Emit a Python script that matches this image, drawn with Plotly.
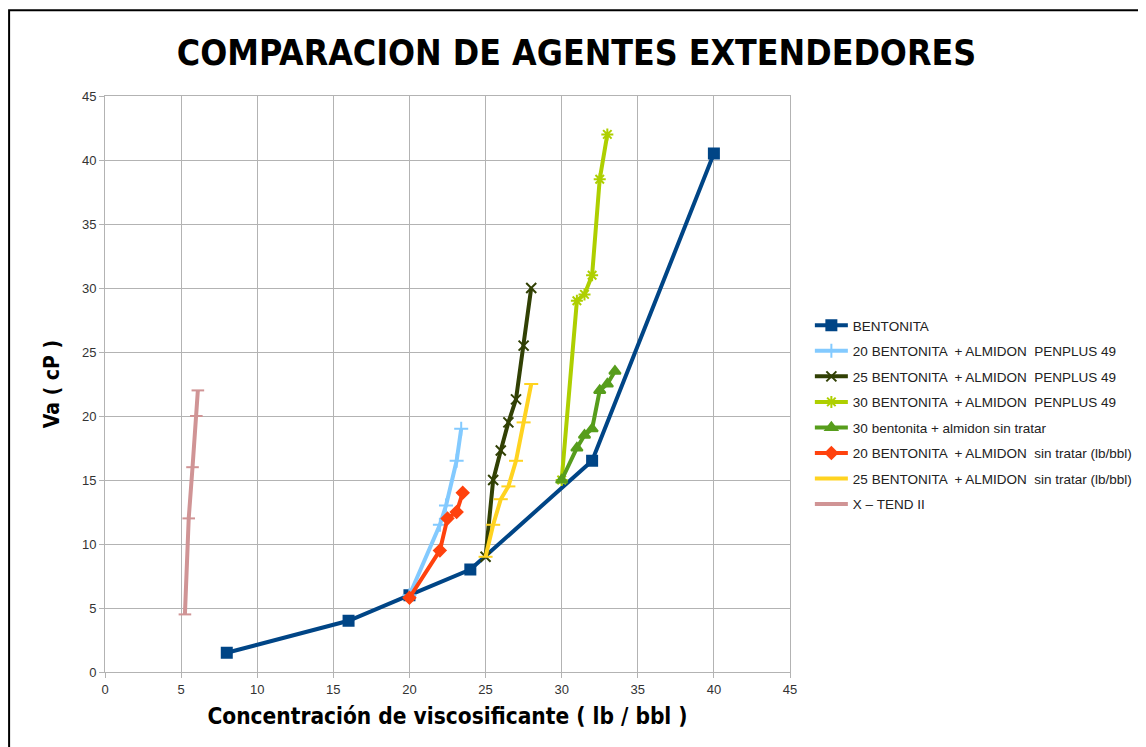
import plotly.graph_objects as go

# data
bent_x = [8, 16, 20, 24, 32, 40]
bent_y = [1.5, 4, 6, 8, 16.5, 40.5]

pp20_x = [20, 22, 22.4, 23.1, 23.4]
pp20_y = [6, 11.5, 13, 16.5, 19]

pp25_x = [25, 25.5, 26, 26.5, 27, 27.5, 28]
pp25_y = [9, 15, 17.3, 19.5, 21.3, 25.5, 30]

pp30_x = [30, 31, 31.5, 32, 32.5, 33]
pp30_y = [15, 29, 29.5, 31, 38.5, 42]

st30_x = [30, 31, 31.5, 32, 32.5, 33, 33.5]
st30_y = [15, 17.5, 18.5, 19, 22, 22.5, 23.5]

st20_x = [20, 22, 22.5, 23.1, 23.5]
st20_y = [5.8, 9.5, 12, 12.5, 14]

st25_x = [25, 25.5, 26, 26.5, 27, 27.5, 28]
st25_y = [9, 11.5, 13.5, 14.5, 16.5, 19.5, 22.5]

xt_x = [5.25, 5.5, 5.75, 6, 6.1]
xt_y = [4.5, 12, 16, 20, 22]

series = [
    ("BENTONITA", bent_x, bent_y, "#004586", "square", 10),
    ("20 BENTONITA  + ALMIDON  PENPLUS 49", pp20_x, pp20_y, "#83CAFF", "cross-thin", 10),
    ("25 BENTONITA  + ALMIDON  PENPLUS 49", pp25_x, pp25_y, "#314004", "x-thin", 10),
    ("30 BENTONITA  + ALMIDON  PENPLUS 49", pp30_x, pp30_y, "#AECF00", "asterisk", 10),
    ("30 bentonita + almidon sin tratar", st30_x, st30_y, "#579D1C", "triangle-up", 10),
    ("20 BENTONITA  + ALMIDON  sin tratar (lb/bbl)", st20_x, st20_y, "#FF420E", "diamond", 9),
    ("25 BENTONITA  + ALMIDON  sin tratar (lb/bbl)", st25_x, st25_y, "#FFD320", "line-ew", 10),
    ("X \u2013 TEND II", xt_x, xt_y, "#D09495", "line-ew", 9),
]

bold_font = "DejaVu Sans Condensed"

fig = go.Figure()
for i, (name, xs, ys, col, sym, sz) in enumerate(series):
    fig.add_trace(go.Scatter(
        x=xs, y=ys, name=name, mode="lines+markers", legendgroup=str(i),
        line=dict(color=col, width=4),
        marker=dict(symbol=sym, size=sz, color=col,
                    line=dict(color=col, width=2)),
    ))

fig.update_layout(
    width=1146, height=747,
    margin=dict(l=97, r=364, t=88, b=83, autoexpand=False),
    paper_bgcolor="white", plot_bgcolor="white",
    font=dict(family="Liberation Sans", color="#333333", size=12),
    title=dict(text="<b>COMPARACION DE AGENTES EXTENDEDORES</b>",
               x=568.5 / 1146, xanchor="center", y=0.94, yanchor="middle",
               font=dict(family=bold_font, size=35.4, color="black")),
    legend=dict(x=1.029, y=0.6285, xanchor="left", yanchor="top",
                font=dict(size=13.5, color="#222222"), tracegroupgap=5,
                itemwidth=33, bgcolor="rgba(0,0,0,0)"),
    shapes=[dict(type="rect", xref="paper", yref="paper",
                 x0=-0.140, x1=1.515, y0=-0.2, y1=1.149,
                 line=dict(color="black", width=2))],
)

fig.update_xaxes(
    range=[0, 45], dtick=5, showgrid=True, gridcolor="#b3b3b3",
    showline=True, linecolor="#b3b3b3", mirror=True, zeroline=False,
    ticks="outside", ticklen=5, tickcolor="#b3b3b3",
    tickfont=dict(size=13),
    title=dict(text="<b>Concentración de viscosificante ( lb / bbl )</b>",
               font=dict(family=bold_font, size=22.5, color="black"),
               standoff=12),
)
fig.update_yaxes(
    range=[0, 45], dtick=5, showgrid=True, gridcolor="#b3b3b3",
    showline=True, linecolor="#b3b3b3", mirror=True, zeroline=False,
    ticks="outside", ticklen=5, tickcolor="#b3b3b3",
    tickfont=dict(size=13),
    title=dict(text="<b>Va ( cP )</b>",
               font=dict(family=bold_font, size=21, color="black"),
               standoff=16),
)

fig.write_html("out.html")
